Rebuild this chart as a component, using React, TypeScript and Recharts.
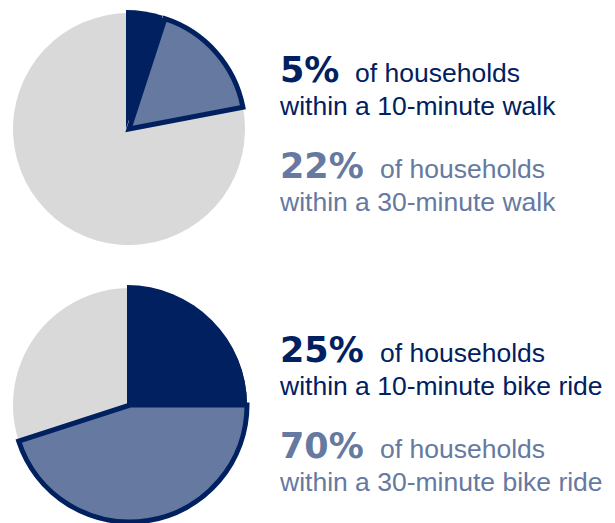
import { PieChart, Pie, Cell } from 'recharts';

// share of households reachable (percent)
const modes = ['walk', 'bike ride'];
const within10 = [5, 25];
const within30 = [22, 70];

const NAVY = '#002060';
const MEDIUM = '#6679A1';
const GRAY = '#D9D9D9';

const PIE_SPOTS = [
  { cx: 129, cy: 129, r: 116, textY: 82 },
  { cx: 130, cy: 405, r: 117, textY: 362 },
];

const BIG_FONT = '"DejaVu Sans", sans-serif';
const SMALL_FONT = '"Liberation Sans", Arial, sans-serif';

function sliceData(i: number) {
  return [
    { name: '10-minute', value: within10[i], fill: NAVY },
    { name: '30-minute', value: within30[i] - within10[i], fill: MEDIUM },
    { name: 'rest', value: 100 - within30[i], fill: GRAY },
  ];
}

function Callout({ y, pct, what, color, wordsX }: { y: number; pct: number; what: string; color: string; wordsX: number }) {
  return (
    <g fill={color}>
      <text x={280} y={y} fontFamily={BIG_FONT} fontWeight={700} fontSize={35}>
        {pct}%
      </text>
      <text x={wordsX} y={y} fontFamily={SMALL_FONT} fontSize={26.5}>
        of households
      </text>
      <text x={280} y={y + 33} fontFamily={SMALL_FONT} fontSize={26.5}>
        {what}
      </text>
    </g>
  );
}

export default function App() {
  // one pie layer: only the slices in `show` are painted
  const layer = (i: number, show: number[], key: string, dx = 0, dr = 0, outline = false) => {
    const spot = PIE_SPOTS[i];
    const data = sliceData(i);
    return (
      <Pie
        key={key}
        data={data}
        dataKey="value"
        cx={spot.cx + dx}
        cy={spot.cy}
        innerRadius={0}
        outerRadius={spot.r + dr}
        startAngle={90}
        endAngle={-270}
        stroke="none"
        isAnimationActive={false}
      >
        {data.map((d, j) => (
          <Cell
            key={`${key}-${j}`}
            fill={show.includes(j) ? d.fill : 'none'}
            stroke={outline && show.includes(j) ? NAVY : 'none'}
            strokeWidth={outline ? 5 : 0}
            strokeMiterlimit={3}
          />
        ))}
      </Pie>
    );
  };

  return (
    <div style={{ position: 'fixed', left: 0, top: 0, width: 615, height: 523, background: '#fff' }}>
      <PieChart width={615} height={523} margin={{ top: 0, right: 0, bottom: 0, left: 0 }}>
        {modes.map((mode, i) => layer(i, [0, 2], `base-${mode}`))}
        {modes.map((mode, i) => layer(i, [0], `near-${mode}`, -3, 3))}
        {modes.map((mode, i) => layer(i, [1], `far-${mode}`, 0, 0, true))}
        {modes.map((mode, i) => {
          const y = PIE_SPOTS[i].textY;
          return (
            <g key={`txt-${mode}`}>
              <Callout
                y={y}
                pct={within10[i]}
                what={`within a 10-minute ${mode}`}
                color={NAVY}
                wordsX={i === 0 ? 355 : 380}
              />
              <Callout
                y={y + 96}
                pct={within30[i]}
                what={`within a 30-minute ${mode}`}
                color={MEDIUM}
                wordsX={380}
              />
            </g>
          );
        })}
      </PieChart>
    </div>
  );
}
